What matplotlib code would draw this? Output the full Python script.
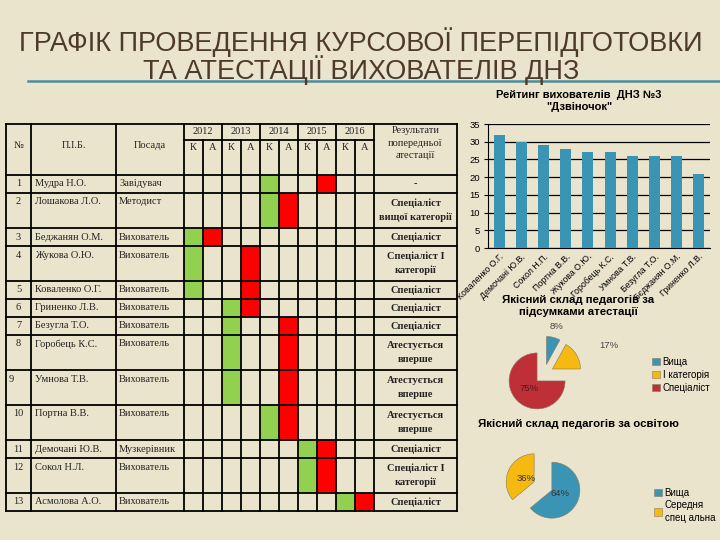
import numpy as np
import matplotlib
matplotlib.use('Agg')
from matplotlib import pyplot as plt
from matplotlib.patches import Rectangle

W, H = 720, 540
BG = '#ebe4cd'

# table: schedule of courses (К) and attestation (А)
nums = list(range(1, 14))
names = ['Мудра Н.О.', 'Лошакова Л.О.', 'Беджанян О.М.', 'Жукова О.Ю.', 'Коваленко О.Г.',
         'Гриненко Л.В.', 'Безугла Т.О.', 'Горобець К.С.', 'Умнова Т.В.', 'Портна В.В.',
         'Демочані Ю.В.', 'Сокол Н.Л.', 'Асмолова А.О.']
posts = ['Завідувач', 'Методист'] + ['Вихователь'] * 8 + ['Музкерівник', 'Вихователь', 'Вихователь']
years = [2012, 2013, 2014, 2015, 2016]
course_cell = [4, 4, 0, 0, 0, 2, 2, 2, 2, 4, 6, 6, 8]    # index of К/А sub-column, green
attest_cell = [7, 5, 1, 3, 3, 3, 5, 5, 5, 5, 7, 7, 9]    # red
results = ['-', 'Спеціаліст\nвищої категорії', 'Спеціаліст', 'Спеціаліст І\nкатегорії',
           'Спеціаліст', 'Спеціаліст', 'Спеціаліст', 'Атестується\nвперше',
           'Атестується\nвперше', 'Атестується\nвперше', 'Спеціаліст',
           'Спеціаліст І\nкатегорії', 'Спеціаліст']

# bar chart
teachers = ['Коваленко О.Г.', 'Демочані Ю.В.', 'Сокол Н.П.', 'Портна В.В.', 'Жукова О.Ю.',
            'Горобець К.С.', 'Умнова Т.В.', 'Безугла Т.О.', 'Бєджанян О.М.', 'Гриненко Л.В.']
rating = [32, 30, 29, 28, 27, 27, 26, 26, 26, 21]

# pies
attest_labels = ['Вища', 'І категорія', 'Спеціаліст']
attest_share = [8, 17, 75]
edu_labels = ['Вища', 'Середня\nспец альна']
edu_share = [64, 36]

BLUE = '#3a94b4'
YELLOW = '#f5b90f'
RED = '#bf2f38'
SANS = 'Liberation Sans'
SERIF = 'Liberation Serif'


def fbox(x0, y0, x1, y1):
    # pixel box (top-left origin) -> figure fraction rect
    return [x0 / W, 1 - y1 / H, (x1 - x0) / W, (y1 - y0) / H]


fig = plt.figure(figsize=(W / 100, H / 100), dpi=100)
fig.patch.set_facecolor(BG)

ax0 = fig.add_axes([0, 0, 1, 1])
ax0.set_xlim(0, W)
ax0.set_ylim(H, 0)
ax0.axis('off')

# title
ax0.text(361, 56, 'ГРАФІК ПРОВЕДЕННЯ КУРСОВОЇ ПЕРЕПІДГОТОВКИ\nТА АТЕСТАЦІЇ ВИХОВАТЕЛІВ ДНЗ',
         ha='center', va='center', fontsize=19.5, color='#4e3a2b', family=SANS, linespacing=0.92)
ax0.plot([28, 720], [81, 81], color='#4a8c9c', lw=1.8)

# ---- table ----
xs = [6, 31, 116, 184] + [184 + 19 * (i + 1) for i in range(10)] + [457]
ka0 = 3  # index of first К/А edge
top, ymid, yhead = 124, 140, 175
heights = [35 if '\n' in r else 18 for r in results]
ybounds = [yhead]
for h in heights:
    ybounds.append(ybounds[-1] + h)
bottom = ybounds[-1]

for i in range(len(nums)):
    y0, y1 = ybounds[i], ybounds[i + 1]
    for c, col in ((course_cell[i], '#92d050'), (attest_cell[i], '#ff0000')):
        xa, xb = xs[ka0 + c], xs[ka0 + c + 1]
        ax0.add_patch(Rectangle((xa, y0), xb - xa, y1 - y0, color=col, lw=0))

lw = 1.3
for y in [top, yhead] + ybounds[1:]:
    ax0.plot([xs[0], xs[-1]], [y, y], color='black', lw=lw)
ax0.plot([xs[ka0], xs[ka0 + 10]], [ymid, ymid], color='black', lw=lw)
for j, x in enumerate(xs):
    inner = ka0 < j < ka0 + 10 and (j - ka0) % 2 == 1
    ax0.plot([x, x], [ymid if inner else top, bottom], color='black', lw=lw)

hs = dict(family=SERIF, fontsize=7.5, color='#222222')
ax0.text((xs[0] + xs[1]) / 2, 145, '№', ha='center', va='center', **hs)
ax0.text((xs[1] + xs[2]) / 2, 145, 'П.І.Б.', ha='center', va='center', **hs)
ax0.text((xs[2] + xs[3]) / 2, 145, 'Посада', ha='center', va='center', **hs)
for k, yr in enumerate(years):
    ax0.text(xs[ka0 + 2 * k + 1], 132, str(yr), ha='center', va='center', **hs)
    for s, lab in enumerate(['К', 'А']):
        xa, xb = xs[ka0 + 2 * k + s], xs[ka0 + 2 * k + s + 1]
        ax0.text((xa + xb) / 2, 148, lab, ha='center', va='center', **hs)
ax0.text((xs[-2] + xs[-1]) / 2, 143, 'Результати\nпопередньої\nатестації', ha='center',
         va='center', linespacing=1.5, **hs)

for i in range(len(nums)):
    y0, y1 = ybounds[i], ybounds[i + 1]
    xn = xs[0] + 3 if nums[i] == 9 else (xs[0] + xs[1]) / 2
    ax0.text(xn, y0 + 9, str(nums[i]), ha='left' if nums[i] == 9 else 'center', va='center', **hs)
    ax0.text(xs[1] + 4, y0 + 9, names[i], ha='left', va='center', **hs)
    ax0.text(xs[2] + 3, y0 + 9, posts[i], ha='left', va='center', **hs)
    ax0.text((xs[-2] + xs[-1]) / 2, (y0 + y1) / 2, results[i], ha='center', va='center',
             family=SERIF, fontsize=7.5, fontweight='bold', linespacing=1.6, color='#222222')

# ---- bar chart ----
ax1 = fig.add_axes(fbox(488, 124, 710, 248))
ax1.set_facecolor('none')
x = np.arange(len(teachers))
ax1.bar(x, rating, width=0.5, color=BLUE, zorder=3)
ax1.set_xlim(-0.5, len(teachers) - 0.5)
ax1.set_ylim(0, 35)
ax1.set_yticks(range(0, 36, 5))
ax1.yaxis.grid(True, color='black', lw=0.9)
ax1.set_axisbelow(True)
ax1.set_xticks(x)
ax1.set_xticklabels(teachers, rotation=45, ha='right', rotation_mode='anchor',
                    family=SANS, fontsize=6.3)
for t in ax1.get_yticklabels():
    t.set_family(SANS)
    t.set_fontsize(6.8)
ax1.tick_params(axis='x', length=0, pad=3)
ax1.tick_params(axis='y', length=3, pad=3)
for s in ['top', 'right']:
    ax1.spines[s].set_visible(False)
fig.text(579 / W, 1 - 101 / H, 'Рейтинг вихователів  ДНЗ №3\n"Дзвіночок"', ha='center',
         va='center', family=SANS, fontsize=8, fontweight='bold', linespacing=1.2)

# ---- pie: attestation ----
r = 28.0
cx, cy = 544, 374
ax2 = fig.add_axes(fbox(cx - 50, cy - 50, cx + 50, cy + 50))
wedges, _ = ax2.pie(attest_share, colors=[BLUE, YELLOW, RED], startangle=90, counterclock=False,
                    explode=[0.35] * 3, wedgeprops=dict(edgecolor='#8a7a60', lw=0.4))
ax2.set_xlim(-50 / r, 50 / r)
ax2.set_ylim(-50 / r, 50 / r)
lab_dist = [1.4, 2.2, 0.4]
lab_ang = [0, -8, 0]
lab_col = ['#444444', '#444444', '#4a1a1a']
for w, d, a, v, c in zip(wedges, lab_dist, lab_ang, attest_share, lab_col):
    th = np.radians((w.theta1 + w.theta2) / 2 + a)
    ax2.text(w.center[0] + d * np.cos(th), w.center[1] + d * np.sin(th), f'{v}%',
             ha='center', va='center', family=SANS, fontsize=6.8, color=c)
fig.text(578 / W, 1 - 306 / H, 'Якісний склад педагогів за\nпідсумками атестації',
         ha='center', va='center', family=SANS, fontsize=8.2, fontweight='bold', linespacing=1.15)
leg1 = fig.legend(wedges, attest_labels, loc='upper left', bbox_to_anchor=(652 / W, 1 - 357 / H),
                  frameon=False, prop=dict(family=SANS, size=7), handlelength=0.8,
                  handleheight=0.8, handletextpad=0.3, labelspacing=0.3, borderaxespad=0,
                  borderpad=0)

# ---- pie: education ----
cx, cy = 543, 486
ax3 = fig.add_axes(fbox(cx - 50, cy - 50, cx + 50, cy + 50))
wedges2, _, pct = ax3.pie(edu_share, colors=[BLUE, YELLOW], startangle=90, counterclock=False,
                          explode=[0.35] * 2, autopct='%d%%', pctdistance=0.32,
                          wedgeprops=dict(edgecolor='#8a7a60', lw=0.4),
                          textprops=dict(family=SANS, fontsize=6.8, color='#333333'))
ax3.set_xlim(-50 / r, 50 / r)
ax3.set_ylim(-50 / r, 50 / r)
fig.text(579 / W, 1 - 424 / H, 'Якісний склад педагогів за освітою', ha='center', va='center',
         family=SANS, fontsize=8.2, fontweight='bold')
leg2 = fig.legend(wedges2, edu_labels, loc='upper left', bbox_to_anchor=(654 / W, 1 - 488 / H),
                  frameon=False, prop=dict(family=SANS, size=7), handlelength=0.8,
                  handleheight=0.8, handletextpad=0.3, labelspacing=0.2, borderaxespad=0,
                  borderpad=0)
for t in leg2.get_texts():
    t.set_linespacing(1.4)

fig.savefig('out.png', dpi=100, facecolor=BG)
